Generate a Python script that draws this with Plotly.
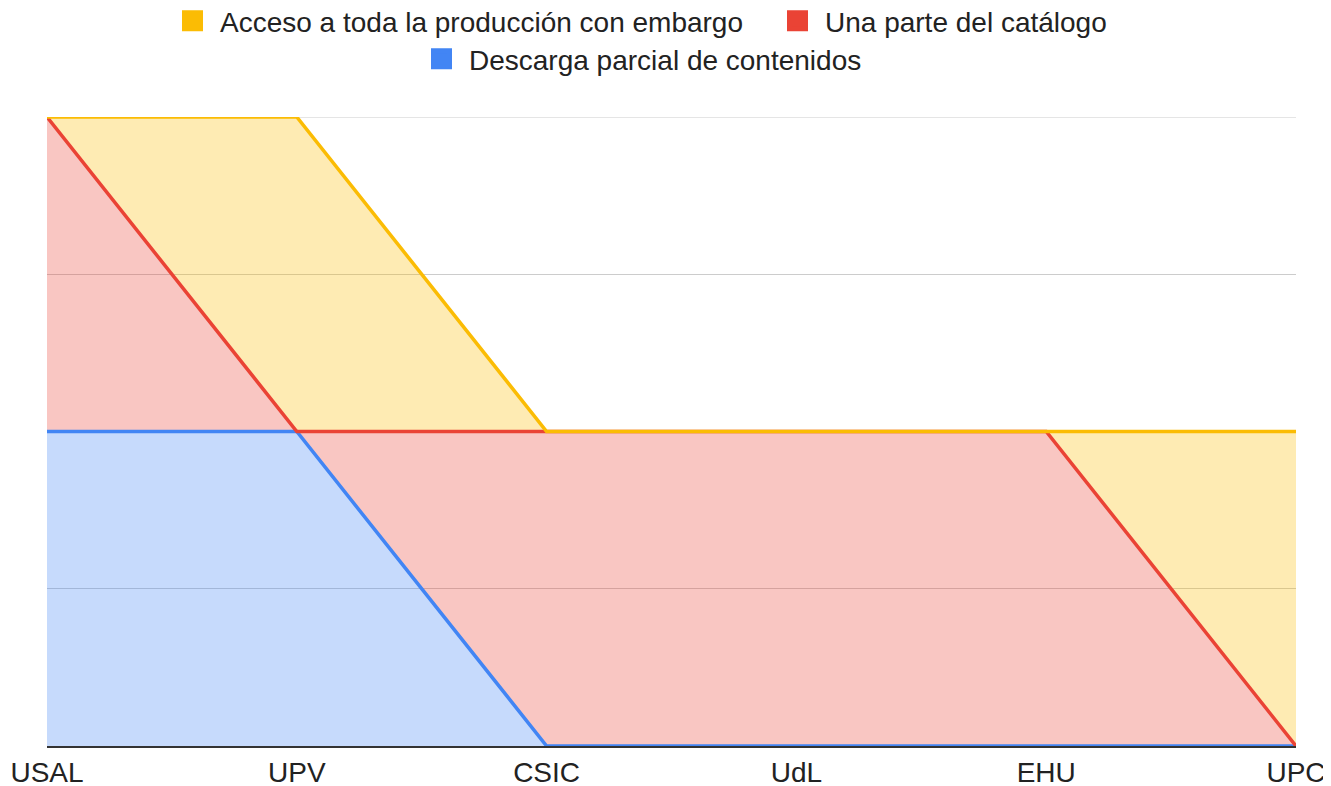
import plotly.graph_objects as go

categories = ["USAL", "UPV", "CSIC", "UdL", "EHU", "UPC"]
descarga_parcial = [2, 2, 0, 0, 0, 0]
parte_catalogo = [2, 0, 2, 2, 2, 0]
acceso_embargo = [0, 2, 0, 0, 0, 2]

names = ["Descarga parcial de contenidos", "Una parte del catálogo", "Acceso a toda la producción con embargo"]
colors = ["#4285F4", "#EA4335", "#FBBC04"]
fills = ["rgba(66,133,244,0.3)", "rgba(234,67,53,0.3)", "rgba(251,188,4,0.3)"]
series = [descarga_parcial, parte_catalogo, acceso_embargo]

# page body has an 8px margin; the figure is sized/offset to compensate
OFF = 8
W, H = 1331 - OFF, 786 - OFF
L, R, T, B = 47 - OFF, 35, 117 - OFF, 40
PW, PH = W - L - R, H - T - B

def px_x(page_x):
    return (page_x - OFF - L) / PW

def px_y(page_y):
    return (H - B - (page_y - OFF)) / PH

xs = list(range(len(categories)))
fig = go.Figure()
for name, vals, c, f in zip(names, series, colors, fills):
    fig.add_trace(go.Scatter(
        x=xs, y=vals, name=name, stackgroup="one", mode="lines",
        line=dict(color=c, width=3.5), fillcolor=f, showlegend=False,
        hoverinfo="x+y+name",
    ))

# legend entries (square swatches), each in its own legend box
legend_ids = ["legend3", "legend2", "legend"]
for name, c, lid in zip(names, colors, legend_ids):
    fig.add_trace(go.Scatter(
        x=[None], y=[None], mode="markers", name=name,
        marker=dict(symbol="square", size=16, color=c, line=dict(color=c, width=5)),
        legend=lid, showlegend=True,
    ))

font = dict(family="Liberation Sans, Arial, sans-serif", size=28, color="#222222")
leg_common = dict(orientation="h", xanchor="left", yanchor="middle", font=font,
                  bgcolor="rgba(0,0,0,0)", itemwidth=45)
fig.update_layout(
    width=W, height=H,
    margin=dict(l=L, r=R, t=T, b=B, autoexpand=False),
    paper_bgcolor="white", plot_bgcolor="white",
    font=font,
    legend=dict(x=px_x(165), y=px_y(21), **leg_common),
    legend2=dict(x=px_x(770), y=px_y(21), **leg_common),
    legend3=dict(x=px_x(414), y=px_y(59), **leg_common),
    xaxis=dict(
        tickmode="array", tickvals=xs, ticktext=categories, range=[0, 5],
        showgrid=False, zeroline=False, showline=True, linecolor="#333333", linewidth=2,
        ticks="", tickfont=font, automargin=False,
    ),
    yaxis=dict(
        range=[0, 4], dtick=1, showticklabels=False, showgrid=True, gridcolor="#cccccc",
        gridwidth=1, zeroline=False, ticks="", automargin=False,
    ),
    shapes=[dict(type="line", xref="paper", yref="y", x0=0, x1=1, y0=4, y1=4,
                 line=dict(color="#cccccc", width=1), layer="below")],
    showlegend=True,
)

fig.write_html("out.html")
